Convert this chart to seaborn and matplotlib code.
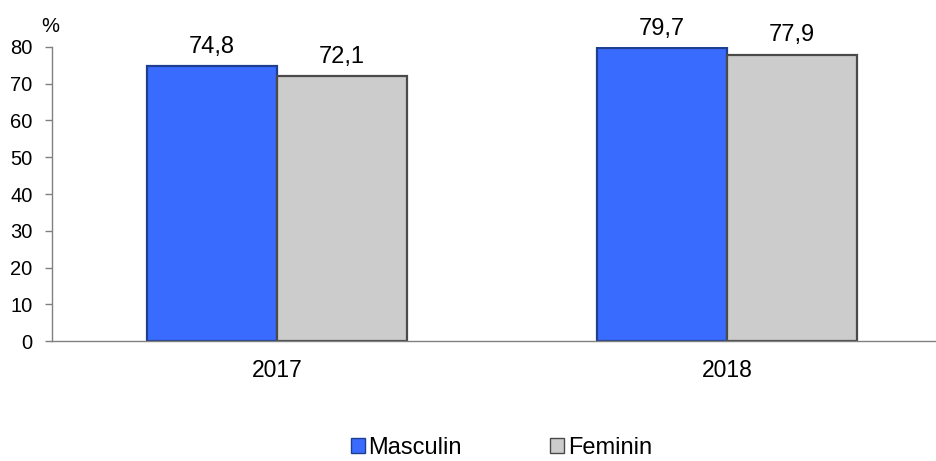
import matplotlib
matplotlib.use("Agg")
import matplotlib.pyplot as plt
import seaborn as sns
import pandas as pd
from matplotlib.patches import Patch

years = ["2017", "2018"]
groups = ["Masculin", "Feminin"]
masculin = [74.8, 79.7]
feminin = [72.1, 77.9]

colors = {"Masculin": "#3A6BFF", "Feminin": "#CCCCCC"}
edges = {"Masculin": "#1E3F8F", "Feminin": "#4A4A4A"}

df = pd.DataFrame({
    "year": years * 2,
    "group": [groups[0]] * len(years) + [groups[1]] * len(years),
    "value": masculin + feminin,
})

sns.set_style("white")
plt.rcParams["font.family"] = ["Liberation Sans", "DejaVu Sans"]
plt.rcParams["text.color"] = "black"
plt.rcParams["xtick.labelcolor"] = "black"
plt.rcParams["ytick.labelcolor"] = "black"

fig = plt.figure(figsize=(9.37, 4.61), dpi=100)
ax = fig.add_axes([52 / 937, 120 / 461, 900 / 937, 294 / 461])

sns.barplot(data=df, x="year", y="value", hue="group", order=years,
            hue_order=groups, palette=colors, width=0.578, ax=ax,
            legend=False, saturation=1, errorbar=None)

for container, g in zip(ax.containers, groups):
    for bar in container:
        bar.set_edgecolor(edges[g])
        bar.set_linewidth(1.6)
    ax.bar_label(container, labels=[f"{v:.1f}".replace(".", ",") for v in container.datavalues],
                 padding=6, fontsize=17, color="black")

ax.set_xlim(-0.5, 1.5)
ax.set_ylim(0, 80)
ax.set_yticks(range(0, 81, 10))
ax.set_xlabel("")
ax.set_ylabel("")
ax.set_xticks([-0.5, 0.5, 1.5], minor=True)
ax.tick_params(axis="x", which="major", length=0, pad=13, labelsize=16.5, labelcolor="black")
ax.tick_params(axis="x", which="minor", length=5, color="#808080", width=1)
ax.tick_params(axis="y", length=5, color="#808080", width=1, labelsize=14.5, pad=9,
               left=True, labelcolor="black")
for side in ["top", "right"]:
    ax.spines[side].set_visible(False)
for side in ["left", "bottom"]:
    ax.spines[side].set_color("#808080")
    ax.spines[side].set_linewidth(1)

fig.text(50 / 937, 1 - 26 / 461, "%", fontsize=14.5, ha="center", va="center", color="black")

handles = [Patch(facecolor=colors[g], edgecolor=edges[g], label=g) for g in groups]
fig.legend(handles=handles, loc="center", bbox_to_anchor=(0.535, 1 - 448 / 461),
           ncol=2, frameon=False, fontsize=17, handlelength=0.6, handleheight=0.6,
           handletextpad=0.15, columnspacing=3.75, labelcolor="black")

plt.savefig("out.png", dpi=100)
plt.close()
